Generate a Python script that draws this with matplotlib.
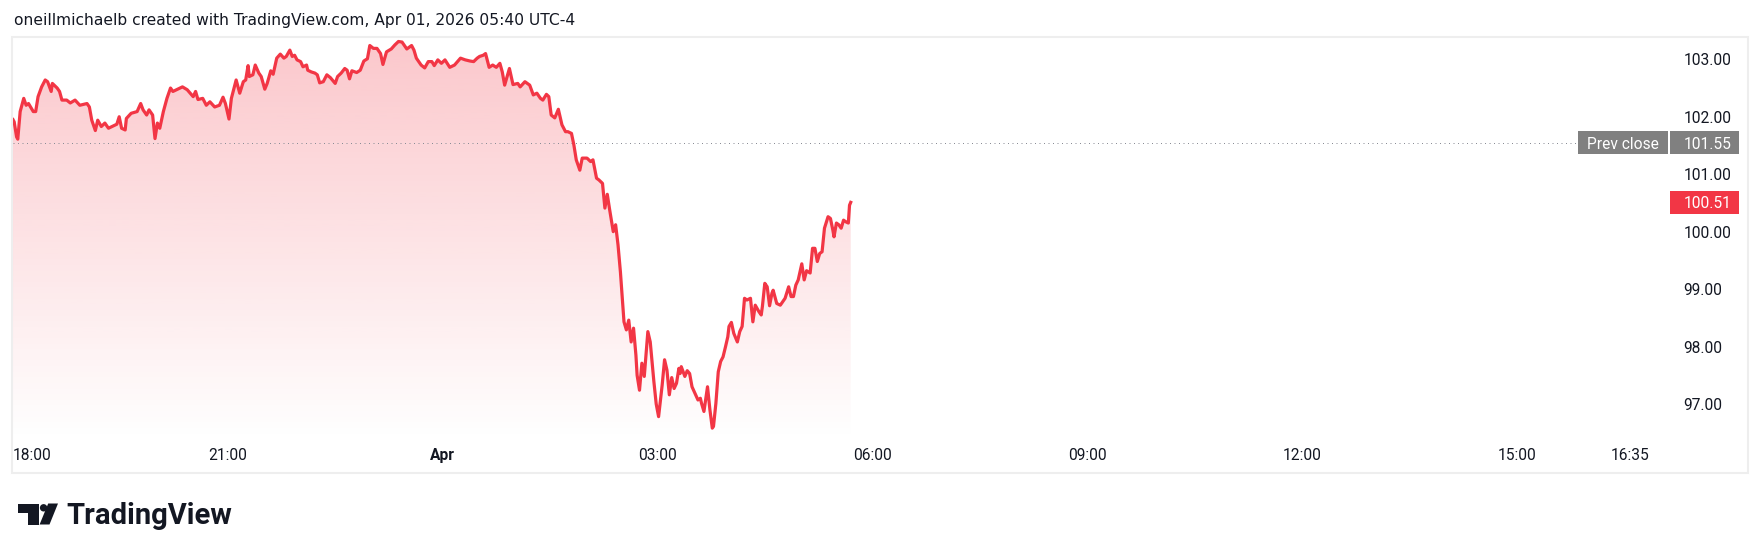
import numpy as np
import matplotlib
matplotlib.use("Agg")
import matplotlib.pyplot as plt
from matplotlib.patches import Rectangle, Polygon, Circle
from matplotlib.transforms import blended_transform_factory
from matplotlib.colors import to_rgb

plt.rcParams['font.family'] = ['Roboto', 'DejaVu Sans']

# ---------------- data ----------------
# minutes after 18:00 (Mar 31), 1-minute chart
minutes = [0,1,3,4,6,9,11,13,17,19,
           21,24,27,29,32,33,37,39,41,45,
           48,52,56,62,64,66,69,71,74,77,
           80,84,87,89,91,94,95,99,104,107,
           109,112,114,117,119,121,123,126,129,132,
           134,137,142,146,151,153,155,159,162,165,
           169,173,176,178,181,183,187,190,193,195,
           197,198,201,203,206,208,211,213,216,218,
           221,224,227,229,232,234,236,238,241,243,
           246,247,250,253,255,257,260,263,266,270,
           272,275,278,280,282,284,288,291,294,297,
           299,302,305,308,310,313,317,320,323,326,
           330,334,336,338,342,345,348,351,353,356,
           359,362,366,370,375,379,383,386,389,391,
           394,396,399,402,405,408,410,412,416,419,
           423,425,429,433,436,439,442,444,447,449,
           451,454,457,460,463,465,468,470,472,475,
           477,481,484,486,489,491,494,496,498,500,
           503,505,507,509,512,514,516,518,520,522,
           523,525,527,529,532,534,537,539,541,544,
           546,548,550,552,554,556,558,559,560,563,
           565,567,569,572,574,576,577,579,582,584,
           586,587,589,591,593,595,597,599,600,602,
           604,607,609,611,613,615,618,620,622,625,
           627,628,630,632,634,636,637,640,643,646,
           647,650,652,654,656,658,661,663,665,668,
           670,672,674,676,678,680,683,685,687,688,
           690,692,694,696,698,700,701,702]

prices = [101.95,101.91,101.65,101.61,102.09,102.32,102.20,102.23,102.09,102.09,
          102.35,102.52,102.64,102.61,102.44,102.58,102.50,102.44,102.29,102.29,
          102.24,102.29,102.20,102.23,102.17,101.94,101.76,101.94,101.83,101.89,
          101.80,101.84,101.87,102.00,101.80,101.77,101.97,102.06,102.09,102.23,
          102.12,102.03,102.12,102.03,101.62,101.89,101.80,102.09,102.32,102.50,
          102.44,102.47,102.52,102.47,102.35,102.44,102.30,102.32,102.20,102.26,
          102.17,102.20,102.34,102.23,101.96,102.32,102.64,102.41,102.61,102.64,
          102.89,102.70,102.73,102.90,102.76,102.70,102.48,102.58,102.80,102.74,
          103.02,103.09,103.02,103.05,103.16,103.05,103.07,102.99,102.96,102.87,
          102.90,102.81,102.78,102.76,102.73,102.59,102.61,102.73,102.68,102.58,
          102.70,102.76,102.84,102.81,102.66,102.80,102.77,102.81,102.97,103.01,
          103.24,103.19,103.19,103.10,102.91,103.13,103.18,103.25,103.31,103.30,
          103.18,103.24,103.16,103.02,102.90,102.85,102.96,102.96,102.89,102.99,
          102.93,102.99,102.86,102.90,103.02,102.99,102.97,102.96,103.02,103.05,
          103.07,103.10,102.86,102.90,102.86,102.93,102.78,102.55,102.84,102.56,
          102.58,102.52,102.61,102.55,102.38,102.41,102.32,102.29,102.39,102.35,
          102.03,101.98,102.13,101.86,101.74,101.74,101.71,101.51,101.25,101.07,
          101.28,101.28,101.22,101.25,100.93,100.90,100.84,100.41,100.65,100.38,
          100.00,100.12,99.77,99.30,98.43,98.29,98.46,98.08,98.32,97.85,
          97.50,97.24,97.71,97.48,98.26,98.08,97.40,97.00,96.78,97.33,
          97.77,97.59,97.16,97.46,97.27,97.36,97.62,97.53,97.65,97.48,
          97.58,97.53,97.30,97.16,97.07,97.10,97.01,96.87,97.30,96.90,
          96.58,96.61,97.01,97.56,97.74,97.82,97.99,98.17,98.35,98.42,
          98.23,98.08,98.26,98.35,98.84,98.81,98.84,98.43,98.72,98.61,
          98.55,98.70,99.10,99.04,98.71,98.93,98.98,98.75,98.72,98.81,
          98.84,99.04,98.87,98.87,99.07,99.16,99.44,99.16,99.32,99.28,
          99.71,99.71,99.48,99.62,99.65,100.06,100.26,100.23,100.03,99.91,
          100.15,100.12,100.06,100.20,100.17,100.15,100.46,100.51]

prev_close = 101.55
last_price = 100.51

xtick_minutes = [0, 180, 360, 540, 720, 900, 1080, 1260, 1355]
xtick_labels = ['18:00', '21:00', 'Apr', '03:00', '06:00', '09:00', '12:00', '15:00', '16:35']
ytick_values = [97.0, 98.0, 99.0, 100.0, 101.0, 102.0, 103.0]

title = "oneillmichaelb created with TradingView.com, Apr 01, 2026 05:40 UTC-4"

RED = '#F23645'
TXT = '#131722'
GREY_BOX = '#808080'

n = min(len(minutes), len(prices))
t = np.array(minutes[:n], dtype=float)
p = np.array(prices[:n], dtype=float)

# ---------------- layout ----------------
W, H = 1762, 556
fig = plt.figure(figsize=(W / 100, H / 100), dpi=100)
fig.patch.set_facecolor('white')

# pixel overlay for frame, title, logo
pax = fig.add_axes([0, 0, 1, 1], zorder=0)
pax.set_xlim(0, W)
pax.set_ylim(H, 0)
pax.axis('off')
pax.add_patch(Rectangle((12, 37), 1748 - 12, 473 - 37, fill=False,
                        ec='#eeeeee', lw=1.5))
pax.text(13.5, 20, title, ha='left', va='center', fontsize=11.2, color=TXT,
         family=['DejaVu Sans'])

# TradingView logo
pax.add_patch(Polygon([(17.7, 503.5), (38.5, 503.5), (38.5, 524.5), (28.3, 524.5),
                       (28.3, 512.7), (17.7, 512.7)], closed=True, fc=TXT, ec='none'))
pax.add_patch(Circle((43.6, 507.8), 3.7, fc=TXT, ec='none'))
pax.add_patch(Polygon([(48.2, 503.5), (58.0, 503.5), (49.5, 524.5), (39.6, 524.5)],
                      closed=True, fc=TXT, ec='none'))
pax.text(66.5, 524.5, 'TradingView', ha='left', va='baseline', fontsize=21.0,
         fontweight='bold', color=TXT)

# main price pane
L, R, T, B = 13, 1665, 37, 440
ax = fig.add_axes([L / W, 1 - B / H, (R - L) / W, (B - T) / H], zorder=2)
ax.patch.set_alpha(0)
for s in ax.spines.values():
    s.set_visible(False)

px_per_unit = 57.45
y_top = 103.0 + (59.3 - T) / px_per_unit
y_bot = 103.0 - (B - 59.3) / px_per_unit
px_per_hour = 71.6
x_max = (R - L) / px_per_hour * 60.0

# gradient area fill
grad = np.zeros((256, 1, 4))
grad[..., :3] = to_rgb(RED)
grad[..., 3] = np.linspace(0.28, 0.0, 256)[:, None]
im = ax.imshow(grad, extent=[0, x_max, y_bot, y_top], aspect='auto',
               origin='upper', zorder=1, interpolation='bilinear')
poly = ax.fill_between(t, p, y_bot, facecolor='none', edgecolor='none')
im.set_clip_path(poly.get_paths()[0], transform=ax.transData)

ax.plot(t, p, color=RED, lw=2.3, solid_joinstyle='round', zorder=3)

ax.set_xlim(0, x_max)
ax.set_ylim(y_bot, y_top)

# previous close dotted line
ax.axhline(prev_close, xmin=0, xmax=(1578 - L) / (R - L), color='#8a8d96',
           lw=0.72, linestyle=(0, (1, 3.5)), zorder=2)

# ticks
ax.set_xticks(xtick_minutes)
ax.set_xticklabels(xtick_labels)
ax.tick_params(axis='x', length=0, pad=5.5, labelsize=11.2, labelcolor=TXT)
xl = ax.get_xticklabels()
xl[0].set_horizontalalignment('left')
xl[2].set_fontweight('bold')

ax.yaxis.tick_right()
ax.set_yticks(ytick_values)
ax.set_yticklabels([f'{v:.2f}' for v in ytick_values])
ax.tick_params(axis='y', length=0, pad=13.2, labelsize=11.2, labelcolor=TXT)

# price labels on the scale
bt = blended_transform_factory(ax.transAxes, ax.transData)
box_h = 22.7 / px_per_unit
def fx(px):
    return (px - L) / (R - L)

ax.add_patch(Rectangle((fx(1578.3), prev_close - box_h / 2), fx(1668.3) - fx(1578.3), box_h,
                       transform=bt, fc=GREY_BOX, ec='none', clip_on=False, zorder=5))
ax.add_patch(Rectangle((fx(1669.6), prev_close - box_h / 2), fx(1739.3) - fx(1669.6), box_h,
                       transform=bt, fc=GREY_BOX, ec='none', clip_on=False, zorder=5))
ax.text(fx(1623.3), prev_close, 'Prev close', transform=bt, ha='center',
        va='center_baseline', fontsize=11.2, color='white', zorder=6, clip_on=False)
ax.text(fx(1683.3), prev_close, f'{prev_close:.2f}', transform=bt, ha='left',
        va='center_baseline', fontsize=11.2, color='white', zorder=6, clip_on=False)

ax.add_patch(Rectangle((fx(1669.6), last_price - box_h / 2), fx(1739.3) - fx(1669.6), box_h,
                       transform=bt, fc=RED, ec='none', clip_on=False, zorder=5))
ax.text(fx(1683.3), last_price, f'{last_price:.2f}', transform=bt, ha='left',
        va='center_baseline', fontsize=11.2, color='white', zorder=6, clip_on=False)

fig.savefig('out.png', dpi=100, facecolor='white')
